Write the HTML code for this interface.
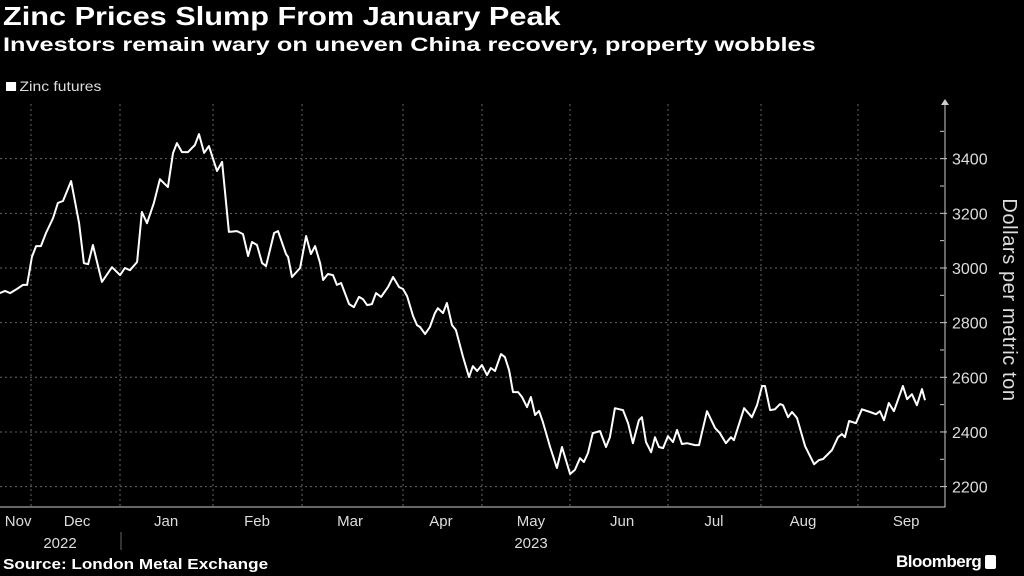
<!DOCTYPE html>
<html><head><meta charset="utf-8"><style>
body{margin:0;background:#000;width:1024px;height:576px;overflow:hidden;font-family:"Liberation Sans",sans-serif;color:#fff}
.t{position:absolute;white-space:nowrap;transform-origin:0 0}
</style></head><body>
<div class="t" style="left:3px;top:1px;font-size:26px;font-weight:bold;transform:scaleX(1.18)">Zinc Prices Slump From January Peak</div>
<div class="t" style="left:3px;top:35px;font-size:19px;font-weight:bold;transform:scaleX(1.33)">Investors remain wary on uneven China recovery, property wobbles</div>
<div class="t" style="left:6px;top:78px;font-size:14px;color:#ddd;transform:scaleX(1.12)"><span style="display:inline-block;width:9px;height:9px;background:#fff;margin-right:3px"></span>Zinc futures</div>
<svg id="c" width="1024" height="576" style="position:absolute;left:0;top:0"></svg>
<div class="t" style="left:3px;top:556px;font-size:15px;font-weight:bold;transform:scaleX(1.14)">Source: London Metal Exchange</div>
<div class="t" style="left:896px;top:552px;font-size:17px;font-weight:bold;letter-spacing:-0.5px">Bloomberg <span style="display:inline-block;width:11px;height:14px;background:#fff;border-radius:2px;vertical-align:-2px"></span></div>
<script>
const days=[-10.4,-8.7,-7.0,-4.7,-2.7,-1.3,0.3,1.7,3.3,5.0,7.4,9.0,10.7,13.4,16.1,17.7,19.1,20.7,23.7,27.1,29.8,31.4,33.1,35.5,37.1,38.8,41.1,43.1,45.8,47.5,48.8,50.5,52.5,54.8,56.2,57.9,59.5,62.2,63.9,66.2,68.9,70.9,72.6,73.9,75.6,77.3,78.6,81.3,82.6,85.3,86.0,87.3,90.0,92.0,93.6,95.0,96.7,97.7,99.3,101.0,102.3,103.7,106.4,108.0,109.7,111.0,112.4,114.0,115.4,117.1,119.4,121.1,123.1,124.4,125.8,127.8,129.1,130.1,131.8,133.4,135.1,136.1,137.8,139.1,140.8,142.1,144.5,146.5,147.8,149.2,150.8,152.5,153.8,155.2,157.2,158.5,159.9,161.2,162.9,164.2,165.9,167.2,168.6,169.9,171.2,173.6,175.9,177.6,180.3,181.9,183.6,184.9,186.3,187.9,190.3,192.3,193.6,195.3,198.0,199.7,201.3,203.3,204.3,205.7,207.4,208.7,210.0,211.4,213.0,214.7,216.1,217.7,219.4,222.1,223.4,226.1,228.8,230.4,232.4,234.1,235.1,238.5,241.1,242.8,244.5,245.5,247.2,248.8,250.5,251.5,253.2,254.5,256.2,258.9,261.9,263.5,264.9,267.9,269.9,271.2,272.2,273.6,275.9,277.9,280.6,282.6,283.9,285.3,286.9,288.6,291.6,293.0,294.6,296.3,298.0,299.0];
const prices=[2908,2916,2908,2923,2938,2938,3040,3080,3080,3128,3183,3238,3245,3318,3164,3018,3014,3084,2949,3003,2974,3000,2992,3022,3205,3164,3238,3325,3296,3420,3457,3424,3424,3450,3490,3421,3446,3355,3388,3132,3135,3124,3044,3095,3084,3018,3007,3128,3135,3051,3040,2967,3000,3117,3051,3080,3018,2956,2978,2974,2938,2945,2868,2857,2894,2886,2864,2868,2908,2894,2930,2967,2930,2923,2897,2824,2791,2784,2758,2784,2835,2853,2835,2872,2791,2773,2674,2601,2641,2623,2645,2608,2634,2623,2685,2674,2626,2546,2546,2528,2491,2528,2462,2477,2436,2345,2268,2345,2246,2261,2304,2290,2323,2396,2403,2345,2381,2487,2480,2432,2359,2443,2454,2363,2326,2381,2345,2341,2385,2363,2407,2356,2359,2352,2352,2476,2414,2396,2359,2381,2370,2487,2454,2498,2568,2568,2480,2483,2502,2498,2454,2473,2451,2348,2282,2297,2301,2334,2381,2392,2381,2440,2432,2483,2473,2465,2476,2443,2506,2476,2568,2520,2538,2498,2557,2516];
const yTicks=[2200,2400,2600,2800,3000,3200,3400];
const months=["Nov","Dec","Jan","Feb","Mar","Apr","May","Jun","Jul","Aug","Sep"];
const monthMid=[-4.3,15.4,45.2,75.6,106.7,137.1,167.2,197.7,228.4,258.2,292.7];
const gridX=[31,120,213,302,403,482,570,668,761,858];
const NS="http://www.w3.org/2000/svg",svg=document.getElementById('c');
const X=d=>31+d*2.99, Y=v=>104+(3600-v)*0.2733;
function mk(t,a){const e=document.createElementNS(NS,t);for(const k in a)e.setAttribute(k,a[k]);svg.appendChild(e);return e;}
yTicks.forEach(v=>{const l=mk('line',{x1:0,x2:940,y1:Y(v),y2:Y(v),stroke:'#666','stroke-dasharray':'2,3','stroke-width':1});


const tk=mk('line',{x1:940,x2:947,y1:Y(v),y2:Y(v),stroke:'#ccc'});


const t=mk('text',{x:952,y:Y(v)+6,fill:'#ddd','font-size':16,'font-family':'Liberation Sans'});t.textContent=v;

});
for(let v=2300;v<3600;v+=200){const m=mk('line',{x1:940,x2:944,y1:Y(v),y2:Y(v),stroke:'#ccc'});

}
gridX.forEach(x=>{const l=mk('line',{x1:x,x2:x,y1:104,y2:507,stroke:'#666','stroke-dasharray':'2,3'});

});
const ax=mk('path',{d:'M945 104 V507 H0',fill:'none',stroke:'#ccc','stroke-width':1});


const ar=mk('path',{d:'M945 99 L949 105 L941 105 Z',fill:'#ccc'});


months.forEach((m,i)=>{const t=mk('text',{x:X(monthMid[i]),y:526,fill:'#ddd','font-size':15,'text-anchor':'middle','font-family':'Liberation Sans'});t.textContent=m;

});
[["2022",60],["2023",531]].forEach(([s,x])=>{const t=mk('text',{x:x,y:548,fill:'#ddd','font-size':15,'text-anchor':'middle','font-family':'Liberation Sans'});t.textContent=s;

});
const sep=mk('line',{x1:121,x2:121,y1:532,y2:550,stroke:'#666'});


const at=mk('text',{x:1003,y:300,fill:'#ddd','font-size':20,'text-anchor':'middle','font-family':'Liberation Sans','letter-spacing':'0.6',transform:'rotate(90 1003 300)'});at.textContent='Dollars per metric ton';


const p=mk('path',{d:days.map((d,i)=>(i?'L':'M')+X(d).toFixed(1)+' '+Y(prices[i]).toFixed(1)).join(''),fill:'none',stroke:'#fff','stroke-width':2,'stroke-linejoin':'round'});


</script>
</body></html>
